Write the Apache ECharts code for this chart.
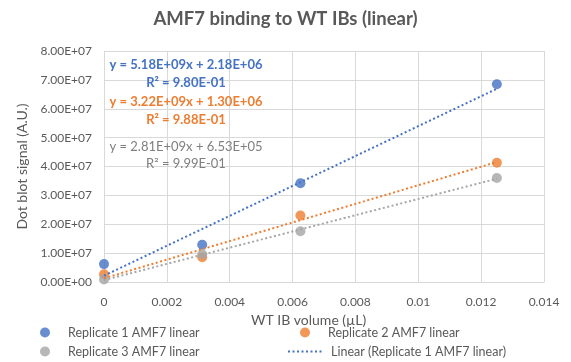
<!DOCTYPE html>
<html><head><meta charset="utf-8">
<script src="https://cdn.jsdelivr.net/npm/echarts@6/dist/echarts.min.js"></script>
<style>html,body{margin:0;padding:0;background:#fff}#c{width:571px;height:362px}</style>
</head><body><div id="c"></div>
<script>
const xValues = [0, 0.003125, 0.00625, 0.0125];
const rep1 = [6.2e6, 1.29e7, 3.42e7, 6.85e7];
const rep2 = [2.7e6, 8.6e6, 2.30e7, 4.13e7];
const rep3 = [0.9e6, 9.6e6, 1.76e7, 3.60e7];
const slopes = [5.18e9, 3.22e9, 2.81e9];
const intercepts = [2.18e6, 1.30e6, 6.53e5];
const seriesNames = ['Replicate 1 AMF7 linear', 'Replicate 2 AMF7 linear', 'Replicate 3 AMF7 linear'];
const equationTexts = ['y = 5.18E+09x + 2.18E+06', 'R² = 9.80E-01', 'y = 3.22E+09x + 1.30E+06', 'R² = 9.88E-01', 'y = 2.81E+09x + 6.53E+05', 'R² = 9.99E-01'];
const colors = ['#4472C4', '#ED7D31', '#A5A5A5'];
const xTicks = {min: 0, max: 0.014, interval: 0.002};
const yTicks = {min: 0, max: 8e7, interval: 1e7};

const FONT = 'Lato, "Liberation Sans", sans-serif';
const reps = [rep1, rep2, rep3];
const series = [];
reps.forEach((r, i) => {
  series.push({
    name: seriesNames[i], type: 'scatter', symbol: 'circle', symbolSize: 10,
    itemStyle: {color: colors[i]}, z: 3,
    data: xValues.map((x, j) => [x, r[j]])
  });
});
reps.forEach((r, i) => {
  const x0 = xValues[0], x1 = xValues[xValues.length - 1];
  series.push({
    name: 'Linear (' + seriesNames[i] + ')', type: 'line', symbol: 'none', z: 4,
    lineStyle: {color: colors[i], width: 2, type: [2, 2.5]},
    itemStyle: {color: colors[i]},
    data: [[x0, slopes[i] * x0 + intercepts[i]], [x1, slopes[i] * x1 + intercepts[i]]]
  });
});

function fmtE(v) {
  const s = Number(v).toExponential(2);
  const [m, e] = s.split('e');
  const sign = e[0] === '-' ? '-' : '+';
  const d = e.replace(/^[+-]/, '');
  return m + 'E' + sign + (d.length < 2 ? '0' + d : d);
}

const eqColors = ['#4472C4', '#4472C4', '#ED7D31', '#ED7D31', '#7F7F7F', '#7F7F7F'];
const eqY = [65, 83, 102, 120, 147, 164];
const eqW = ['bold', 'bold', 'bold', 'bold', 'normal', 'normal'];

const legendText = {color: '#595959', fontSize: 12.5, fontFamily: FONT, padding: [0, 0, 0, 11]};
const legendTextLine = {color: '#595959', fontSize: 12.5, fontFamily: FONT, padding: [0, 0, 0, 2]};
const chart = echarts.init(document.getElementById('c'));
chart.setOption({
  animation: false,
  backgroundColor: '#fff',
  title: {
    text: 'AMF7 binding to WT IBs (linear)', left: 'center', top: 5,
    textStyle: {color: '#595959', fontSize: 18.5, fontWeight: 'bold', fontFamily: FONT}
  },
  grid: {left: 104, right: 27, top: 51, bottom: 80},
  xAxis: {
    type: 'value', min: xTicks.min, max: xTicks.max, interval: xTicks.interval,
    name: 'WT IB volume (µL)', nameLocation: 'middle', nameGap: 31,
    nameTextStyle: {color: '#595959', fontSize: 14, fontFamily: FONT, padding: [0, 31, 0, 0]},
    axisLine: {show: true, lineStyle: {color: '#D9D9D9'}},
    axisTick: {show: false},
    splitLine: {show: true, lineStyle: {color: '#D9D9D9'}},
    axisLabel: {color: '#595959', fontSize: 12, fontFamily: FONT, margin: 14}
  },
  yAxis: {
    type: 'value', min: yTicks.min, max: yTicks.max, interval: yTicks.interval,
    name: 'Dot blot signal (A.U.)', nameLocation: 'middle', nameGap: 75,
    nameTextStyle: {color: '#595959', fontSize: 14, fontFamily: FONT},
    axisLine: {show: true, lineStyle: {color: '#D9D9D9'}},
    axisTick: {show: false},
    splitLine: {show: true, lineStyle: {color: '#D9D9D9'}},
    axisLabel: {color: '#595959', fontSize: 12, fontFamily: FONT, margin: 12, formatter: fmtE}
  },
  legend: [
    {data: [seriesNames[0]], left: 40, top: 326, padding: 0, itemWidth: 14, itemHeight: 10, textStyle: legendText},
    {data: [seriesNames[1]], left: 300, top: 326, padding: 0, itemWidth: 14, itemHeight: 10, textStyle: legendText},
    {data: [seriesNames[2]], left: 40, top: 345, padding: 0, itemWidth: 14, itemHeight: 10, textStyle: legendText},
    {data: ['Linear (' + seriesNames[0] + ')'], left: 287, top: 345, padding: 0, itemWidth: 36, itemHeight: 10,
     itemStyle: {opacity: 0}, textStyle: legendTextLine}
  ],
  graphic: equationTexts.map((t, i) => ({
    type: 'text', x: 186, y: eqY[i], z: 10,
    style: {text: t, fill: eqColors[i], font: eqW[i] + ' 13px ' + FONT, textAlign: 'center', textVerticalAlign: 'middle'}
  })),
  series: series
});
</script>
</body></html>
